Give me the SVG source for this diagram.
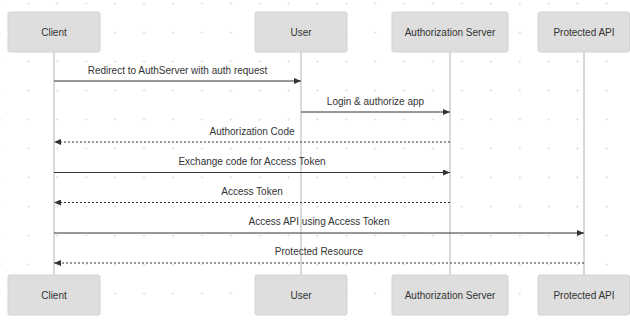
<svg xmlns="http://www.w3.org/2000/svg" width="630" height="321" viewBox="0 0 630 321">
<style>
.box{fill:#dedede;stroke:#d2d2d2;stroke-width:1}
.life{stroke:#cccccc;stroke-width:1.5;fill:none}
.lbl{font-family:"Liberation Sans",Arial,sans-serif;font-size:10px;fill:#333;text-anchor:middle}
.msg{stroke:#333;stroke-width:1;fill:none}
.ret{stroke:#333;stroke-width:1;fill:none;stroke-dasharray:2,2}
</style>
<defs>
<pattern id="grid" patternUnits="userSpaceOnUse" x="14" y="-11" width="28.9" height="29">
<rect x="12.95" y="14" width="3" height="1" fill="#e6e6e6"/>
<rect x="13.95" y="13" width="1" height="3" fill="#e6e6e6"/>
</pattern>
<marker id="ah" markerWidth="7" markerHeight="6" refX="7" refY="3" orient="auto" markerUnits="userSpaceOnUse">
<path d="M0,0 L7,3 L0,6 Z" fill="#333"/>
</marker>
</defs>
<rect width="630" height="321" fill="#fff"/>
<rect width="630" height="321" fill="url(#grid)"/>
<g id="lifelines">
<line class="life" x1="54" y1="52" x2="54" y2="275"/>
<line class="life" x1="301" y1="52" x2="301" y2="275"/>
<line class="life" x1="450" y1="52" x2="450" y2="275"/>
<line class="life" x1="584" y1="52" x2="584" y2="275"/>
</g>
<g id="client-top"><rect class="box" x="8" y="12" width="92" height="40" rx="2"/><text class="lbl" x="54" y="35.5">Client</text></g>
<g id="user-top"><rect class="box" x="255" y="12" width="92" height="40" rx="2"/><text class="lbl" x="301" y="35.5">User</text></g>
<g id="auth-top"><rect class="box" x="392" y="12" width="116" height="40" rx="2"/><text class="lbl" x="450" y="35.5">Authorization Server</text></g>
<g id="api-top"><rect class="box" x="538" y="12" width="91.5" height="40" rx="2"/><text class="lbl" x="584" y="35.5">Protected API</text></g>
<g id="client-bottom"><rect class="box" x="8" y="275" width="92" height="40" rx="2"/><text class="lbl" x="54" y="298.5">Client</text></g>
<g id="user-bottom"><rect class="box" x="255" y="275" width="92" height="40" rx="2"/><text class="lbl" x="301" y="298.5">User</text></g>
<g id="auth-bottom"><rect class="box" x="392" y="275" width="116" height="40" rx="2"/><text class="lbl" x="450" y="298.5">Authorization Server</text></g>
<g id="api-bottom"><rect class="box" x="538" y="275" width="91.5" height="40" rx="2"/><text class="lbl" x="584" y="298.5">Protected API</text></g>
<g id="connectors">
<line class="msg" x1="54" y1="81" x2="301" y2="81" marker-end="url(#ah)"/>
<text class="lbl" x="177.5" y="73.5">Redirect to AuthServer with auth request</text>
<line class="msg" x1="301" y1="112" x2="450" y2="112" marker-end="url(#ah)"/>
<text class="lbl" x="375.5" y="104.5">Login &amp; authorize app</text>
<line class="ret" x1="450" y1="142" x2="54" y2="142" marker-end="url(#ah)"/>
<text class="lbl" x="252" y="134.5">Authorization Code</text>
<line class="msg" x1="54" y1="172.5" x2="450" y2="172.5" marker-end="url(#ah)"/>
<text class="lbl" x="252" y="164.5">Exchange code for Access Token</text>
<line class="ret" x1="450" y1="202.5" x2="54" y2="202.5" marker-end="url(#ah)"/>
<text class="lbl" x="252" y="194.5">Access Token</text>
<line class="msg" x1="54" y1="233" x2="584" y2="233" marker-end="url(#ah)"/>
<text class="lbl" x="319" y="225">Access API using Access Token</text>
<line class="ret" x1="584" y1="263" x2="54" y2="263" marker-end="url(#ah)"/>
<text class="lbl" x="319" y="255">Protected Resource</text>
</g>
</svg>
